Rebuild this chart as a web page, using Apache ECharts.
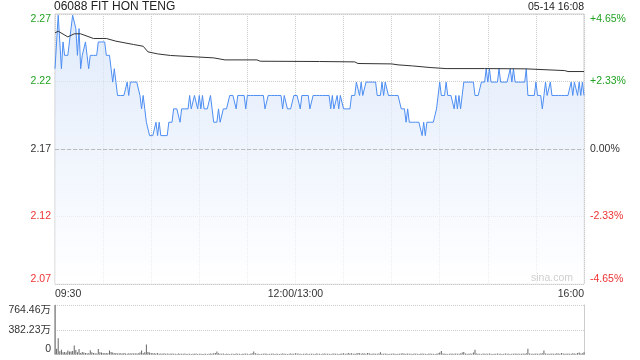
<!DOCTYPE html>
<html><head><meta charset="utf-8">
<script src="https://cdn.jsdelivr.net/npm/echarts@6/dist/echarts.min.js"></script>
<style>html,body{margin:0;padding:0;background:#fff}#c{width:640px;height:360px}</style>
</head><body><div id="c"></div>
<script>
const chartTitle = '06088 FIT HON TENG';
const stamp = '05-14 16:08';
const watermark = 'sina.com';
const prevClose = 2.17;
const sessions = [['09:30', '12:00'], ['13:01', '16:00']];

const price = [
  2.23,2.25,2.27,2.25,2.23,2.25,2.24,2.24,2.24,2.25,
  2.26,2.27,2.27,2.26,2.24,2.26,2.23,2.24,2.24,2.25,
  2.24,2.23,2.24,2.24,2.24,2.24,2.24,2.25,2.25,2.25,
  2.25,2.25,2.24,2.24,2.24,2.23,2.22,2.23,2.22,2.21,
  2.21,2.21,2.21,2.21,2.21,2.22,2.21,2.22,2.22,2.22,
  2.22,2.22,2.22,2.21,2.20,2.21,2.20,2.19,2.19,2.18,
  2.18,2.18,2.18,2.19,2.18,2.19,2.18,2.18,2.18,2.18,
  2.18,2.19,2.19,2.19,2.20,2.20,2.20,2.20,2.19,2.20,
  2.20,2.20,2.20,2.20,2.21,2.20,2.20,2.21,2.21,2.20,
  2.21,2.20,2.21,2.20,2.20,2.20,2.20,2.21,2.20,2.19,
  2.19,2.19,2.20,2.19,2.19,2.20,2.20,2.20,2.20,2.21,
  2.21,2.21,2.21,2.20,2.21,2.21,2.21,2.21,2.21,2.20,
  2.21,2.21,2.21,2.21,2.21,2.21,2.21,2.21,2.21,2.21,
  2.21,2.20,2.20,2.21,2.21,2.21,2.21,2.21,2.21,2.21,
  2.21,2.21,2.20,2.21,2.21,2.20,2.20,2.20,2.20,2.21,
  2.21,2.21,2.21,2.20,2.21,2.21,2.21,2.21,2.21,2.20,
  2.20,2.21,2.21,2.21,2.21,2.21,2.21,2.21,2.21,2.21,
  2.21,2.21,2.20,2.21,2.20,2.20,2.21,2.20,2.21,2.21,
  2.20,2.20,2.20,2.20,2.20,2.21,2.21,2.21,2.22,2.22,
  2.21,2.22,2.21,2.21,2.22,2.22,2.22,2.22,2.22,2.22,
  2.22,2.21,2.21,2.21,2.22,2.21,2.22,2.22,2.21,2.21,
  2.21,2.21,2.21,2.21,2.21,2.21,2.20,2.20,2.20,2.19,
  2.20,2.19,2.19,2.19,2.19,2.19,2.19,2.19,2.19,2.18,
  2.19,2.18,2.19,2.19,2.19,2.19,2.19,2.19,2.20,2.20,
  2.22,2.21,2.21,2.21,2.22,2.21,2.21,2.21,2.21,2.20,
  2.21,2.20,2.21,2.20,2.20,2.22,2.22,2.22,2.22,2.22,
  2.22,2.22,2.21,2.21,2.21,2.21,2.22,2.22,2.22,2.23,
  2.22,2.23,2.22,2.22,2.22,2.22,2.22,2.23,2.22,2.22,
  2.22,2.22,2.22,2.22,2.23,2.22,2.23,2.22,2.22,2.22,
  2.22,2.22,2.22,2.22,2.23,2.21,2.21,2.21,2.21,2.21,
  2.22,2.21,2.21,2.21,2.20,2.21,2.22,2.21,2.21,2.22,
  2.21,2.21,2.21,2.21,2.21,2.21,2.21,2.21,2.21,2.21,
  2.21,2.21,2.22,2.21,2.22,2.22,2.21,2.22,2.21,2.22,
  2.21
];

const volume = [
  764.46,88,250,50,75,35,40,30,60,45,
  45,55,138,70,35,85,25,40,30,25,
  20,20,65,35,25,20,15,85,35,30,
  25,20,25,20,60,40,30,20,25,15,
  20,18,15,22,15,12,18,15,20,15,
  18,15,20,30,60,25,35,155,40,30,
  25,20,18,15,22,12,15,10,18,12,
  15,10,12,15,10,12,8,15,10,12,
  10,15,8,12,10,8,12,10,15,8,
  10,12,8,10,12,8,10,15,12,20,
  25,45,20,12,10,15,8,10,12,8,
  10,12,8,15,10,12,8,10,12,15,
  10,8,12,20,45,18,10,12,8,10,
  12,15,10,8,12,10,15,8,10,12,
  8,10,15,12,10,8,12,15,10,12,
  20,15,12,10,8,12,10,15,8,12,
  10,12,8,15,10,12,8,10,15,12,
  10,12,8,10,15,12,10,8,12,15,
  20,10,12,25,15,20,10,12,15,25,
  18,12,20,15,10,25,18,12,10,15,
  12,10,15,35,12,10,15,12,8,10,
  12,15,10,8,12,10,15,20,10,12,
  15,10,12,8,15,12,10,8,12,15,
  10,12,8,10,15,12,10,8,12,20,
  30,55,15,12,10,8,12,15,10,12,
  15,10,12,15,30,40,15,12,10,15,
  12,30,75,15,10,12,8,15,12,10,
  12,15,10,8,12,10,15,12,10,8,
  12,15,10,12,8,10,12,15,10,12,
  10,12,15,10,20,90,15,12,10,12,
  15,10,12,15,20,60,15,12,10,12,
  15,10,12,20,15,12,25,15,12,10,
  15,12,10,20,15,12,25,30,15,20,
  35
];

const avgTimes = ['09:30','09:32','09:38','09:42','09:46','09:54','10:02','10:08','10:19','10:25','10:28','10:34','10:42','11:09','11:16','11:36','11:38','13:15','13:37','13:39','14:00','14:04','14:13','14:24','14:34','14:58','15:24','15:25','15:48','15:50','16:00'];
const avgPrice = [2.2568,2.2580,2.2538,2.2561,2.2561,2.2526,2.2526,2.2506,2.2481,2.2468,2.2426,2.2411,2.2399,2.2381,2.2366,2.2366,2.2356,2.2354,2.2351,2.2339,2.2336,2.2329,2.2321,2.2309,2.2301,2.2301,2.2299,2.2289,2.2286,2.2279,2.2279];

const pctTicks = [-4.65, -2.325, 0, 2.325, 4.65];
const leftLabels = ['2.07', '2.12', '2.17', '2.22', '2.27'];
const rightLabels = ['-4.65%', '-2.33%', '0.00%', '+2.33%', '+4.65%'];
const volTicks = [0, 382.23, 764.46];
const volLabels = ['0', '382.23万', '764.46万'];
const xLabels = {'09:30': '09:30', '12:00': '12:00/13:00', '16:00': '16:00'};

const FONT = '"Liberation Sans", Arial, "Noto Sans CJK SC", sans-serif';
const GREEN = '#22a322', RED = '#ee3333', DARK = '#333';

function toMin(s) { const p = s.split(':').map(Number); return p[0] * 60 + p[1]; }
function fmt(t) { return String(Math.floor(t / 60)).padStart(2, '0') + ':' + String(t % 60).padStart(2, '0'); }
const times = [];
sessions.forEach(function (s) { for (let t = toMin(s[0]); t <= toMin(s[1]); t++) times.push(fmt(t)); });

const toPct = p => (p / prevClose - 1) * 100;
const step = pctTicks[3] - pctTicks[2];
const tickIdx = v => Math.round(Number(v) / step) + 2;
const pctColor = v => { const n = Number(v); return n > 0.01 ? GREEN : (n < -0.01 ? RED : DARK); };

const chart = echarts.init(document.getElementById('c'));
chart.setOption({
  animation: false,
  backgroundColor: '#fff',
  title: [
    { text: chartTitle, left: 54, top: 1, padding: 0, textStyle: { fontSize: 12, fontWeight: 'normal', color: '#222', fontFamily: FONT } },
    { text: stamp, right: 56, top: 2, padding: 0, textStyle: { fontSize: 10.5, fontWeight: 'normal', color: '#222', fontFamily: FONT } },
    { text: watermark, right: 67, top: 273, padding: 0, textStyle: { fontSize: 10.5, fontWeight: 'normal', color: '#cfcfcf', fontFamily: FONT } }
  ],
  grid: [
    { left: 55, right: 56, top: 14, height: 270, show: true, borderColor: '#cccccc', borderWidth: 1, backgroundColor: 'transparent' },
    { left: 55, right: 56, top: 305, height: 49.5 }
  ],
  xAxis: [
    {
      type: 'category', gridIndex: 0, data: times, boundaryGap: false,
      axisLine: { show: false }, axisTick: { show: false },
      axisLabel: {
        interval: (i, v) => v in xLabels, formatter: v => xLabels[v] || '',
        alignMinLabel: 'left', alignMaxLabel: 'right',
        color: DARK, fontSize: 10.5, margin: 5, fontFamily: FONT
      },
      splitLine: { show: true, interval: i => i % 30 === 0, lineStyle: { color: '#cccccc', type: 'dotted', width: 1 } }
    },
    {
      type: 'category', gridIndex: 1, data: times, boundaryGap: false,
      axisLine: { show: false }, axisTick: { show: false }, axisLabel: { show: false }, splitLine: { show: false }
    }
  ],
  yAxis: [
    {
      type: 'value', gridIndex: 0, min: pctTicks[0], max: pctTicks[4], interval: step,
      axisLine: { show: false }, axisTick: { show: false },
      axisLabel: {
        formatter: v => leftLabels[tickIdx(v)], color: pctColor,
        verticalAlignMinLabel: 'bottom', verticalAlignMaxLabel: 'top',
        fontSize: 10.5, margin: 4, fontFamily: FONT
      },
      splitLine: { show: true, lineStyle: { color: '#cccccc', type: 'dotted', width: 1 } }
    },
    {
      type: 'value', gridIndex: 0, position: 'right', min: pctTicks[0], max: pctTicks[4], interval: step,
      axisLine: { show: false }, axisTick: { show: false },
      axisLabel: {
        formatter: v => rightLabels[tickIdx(v)], color: pctColor,
        verticalAlignMinLabel: 'bottom', verticalAlignMaxLabel: 'top',
        fontSize: 10.5, margin: 6, fontFamily: FONT
      },
      splitLine: { show: false }
    },
    {
      type: 'value', gridIndex: 1, min: volTicks[0], max: volTicks[2], interval: volTicks[1],
      axisLine: { show: true, lineStyle: { color: '#cccccc' } }, axisTick: { show: false },
      axisLabel: {
        formatter: v => volLabels[volTicks.indexOf(Number(v))] || '', color: DARK,
        verticalAlignMinLabel: 'bottom', verticalAlignMaxLabel: 'top',
        fontSize: 10.5, margin: 4, fontFamily: FONT
      },
      splitLine: { show: true, lineStyle: { color: '#cccccc', type: 'dotted', width: 1 } }
    },
    {
      type: 'value', gridIndex: 1, position: 'right', min: volTicks[0], max: volTicks[2], interval: volTicks[1],
      axisLine: { show: true, lineStyle: { color: '#cccccc' } }, axisTick: { show: false },
      axisLabel: { show: false }, splitLine: { show: false }
    }
  ],
  series: [
    {
      name: 'price', type: 'line', xAxisIndex: 0, yAxisIndex: 0,
      data: price.map(toPct), showSymbol: false, symbol: 'none',
      lineStyle: { color: '#4d8ef3', width: 1 },
      areaStyle: {
        origin: 'start',
        color: { type: 'linear', x: 0, y: 0, x2: 0, y2: 1, colorStops: [{ offset: 0, color: '#d3e2f9' }, { offset: 1, color: '#ffffff' }] }
      },
      markLine: {
        silent: true, symbol: 'none', label: { show: false },
        lineStyle: { color: '#bbbbbb', type: 'dashed', width: 1 },
        data: [{ yAxis: 0 }]
      },
      z: 3
    },
    {
      name: 'avg', type: 'line', xAxisIndex: 0, yAxisIndex: 0,
      data: avgTimes.map((t, i) => [t, toPct(avgPrice[i])]), showSymbol: false, symbol: 'none',
      lineStyle: { color: '#333333', width: 1 }, z: 4
    },
    {
      name: 'volume', type: 'bar', xAxisIndex: 1, yAxisIndex: 2,
      data: volume, barWidth: 1, itemStyle: { color: '#666666' }
    }
  ]
});
</script>
</body></html>
